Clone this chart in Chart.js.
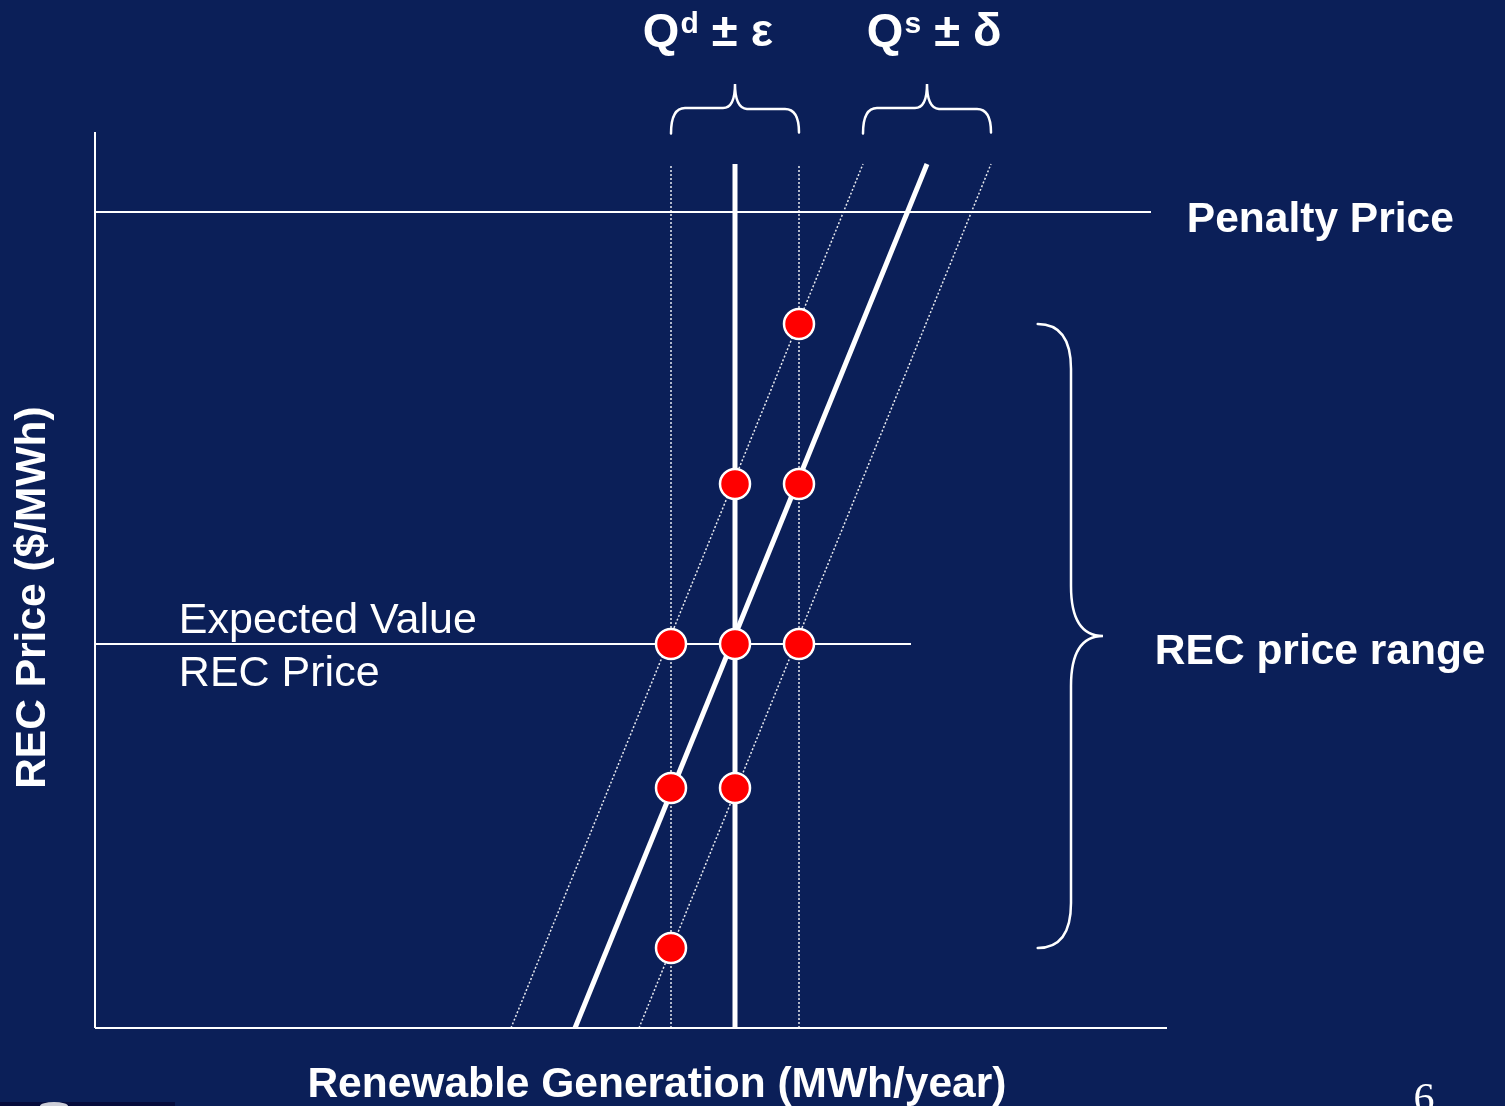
<!DOCTYPE html>
<html>
<head>
<meta charset="utf-8">
<script src="https://cdn.jsdelivr.net/npm/chart.js@4.4.1/dist/chart.umd.min.js"></script>
<style>
  html, body { margin: 0; padding: 0; background: #0b1f58; }
  canvas { display: block; }
</style>
</head>
<body>
<canvas id="recChart" width="1505" height="1106"></canvas>
<script>
// ---- diagram values (x: MWh units, y: price units) ----
const demandQ = [9, 10, 11];            // Qd - e, Qd, Qd + e
const priceTop = 5.4;                   // where the demand/supply lines end
const supplyBottomX = [6.5, 7.5, 8.5];  // Qs - d, Qs, Qs + d at price 0
const supplyTopX = [12, 13, 14];        // same lines at priceTop
const penaltyPrice = 5.1;
const expectedPrice = 2.4;
const penaltyEndX = 16.5;
const expectedEndX = 12.75;
const axisEndX = 16.75;
const axisEndY = 5.6;

// intersections (red dots)
const pointX = [11, 10, 11, 9, 10, 11, 9, 10, 9];
const pointY = [4.4, 3.4, 3.4, 2.4, 2.4, 2.4, 1.5, 1.5, 0.5];

const white = '#ffffff';
const dotted = 'rgba(255,255,255,0.9)';
const sans = "'Liberation Sans', Arial, sans-serif";

function seg(x1, y1, x2, y2) {
    return [{x: x1, y: y1}, {x: x2, y: y2}];
}

function lineSet(data, width, dash, order) {
    return {
        type: 'line',
        data: data,
        borderColor: dash ? dotted : white,
        borderWidth: width,
        borderDash: dash || [],
        pointRadius: 0,
        showLine: true,
        fill: false,
        clip: false,
        order: order
    };
}

const datasets = [
    {
        type: 'scatter',
        label: 'REC prices',
        data: pointX.map((x, i) => ({x: x, y: pointY[i]})),
        backgroundColor: '#ff0000',
        borderColor: white,
        borderWidth: 2.5,
        pointRadius: 15,
        pointHoverRadius: 15,
        clip: false,
        order: 0
    },
    // axes
    lineSet(seg(0, 0, 0, axisEndY), 2, null, 5),
    lineSet(seg(0, 0, axisEndX, 0), 2, null, 5),
    // price lines
    lineSet(seg(0, penaltyPrice, penaltyEndX, penaltyPrice), 2, null, 5),
    lineSet(seg(0, expectedPrice, expectedEndX, expectedPrice), 2, null, 5),
    // demand
    lineSet(seg(demandQ[0], 0, demandQ[0], priceTop), 1.5, [2, 2], 4),
    lineSet(seg(demandQ[2], 0, demandQ[2], priceTop), 1.5, [2, 2], 4),
    lineSet(seg(demandQ[1], 0, demandQ[1], priceTop), 5, null, 3),
    // supply
    lineSet(seg(supplyBottomX[0], 0, supplyTopX[0], priceTop), 1.5, [2, 2], 4),
    lineSet(seg(supplyBottomX[2], 0, supplyTopX[2], priceTop), 1.5, [2, 2], 4),
    lineSet(seg(supplyBottomX[1], 0, supplyTopX[1], priceTop), 5, null, 3)
];

// braces + labels, placed through the scales
const annotations = {
    id: 'annotations',
    afterDraw(chart) {
        const c = chart.ctx;
        const sx = v => chart.scales.x.getPixelForValue(v);
        const sy = v => chart.scales.y.getPixelForValue(v);

        c.save();
        c.strokeStyle = white;
        c.fillStyle = white;
        c.lineWidth = 2.5;
        c.lineCap = 'round';

        // horizontal braces over demand and supply ranges
        function hBrace(x1, x2) {
            const a = sx(x1), b = sx(x2), m = (a + b) / 2;
            const yEnd = sy(5.59), yMid = sy(5.75), yTip = sy(5.9);
            c.beginPath();
            c.moveTo(a, yEnd);
            c.quadraticCurveTo(a, yMid, a + 14, yMid);
            c.lineTo(m - 12, yMid);
            c.quadraticCurveTo(m, yMid, m, yTip);
            c.quadraticCurveTo(m, yMid, m + 12, yMid + 1);
            c.lineTo(b - 14, yMid + 1);
            c.quadraticCurveTo(b, yMid + 1, b, yEnd - 1);
            c.stroke();
        }
        hBrace(demandQ[0], demandQ[2]);
        hBrace(supplyTopX[0], supplyTopX[2]);

        // vertical brace for the price range
        const x0 = sx(14.73), xv = sx(15.25), xt = sx(15.75);
        const yT = sy(4.4), yB = sy(0.5), yTip = sy(2.45);
        c.beginPath();
        c.moveTo(x0, yT);
        c.quadraticCurveTo(xv, yT, xv, yT + 45);
        c.lineTo(xv, yTip - 50);
        c.quadraticCurveTo(xv, yTip, xt, yTip);
        c.quadraticCurveTo(xv, yTip, xv, yTip + 50);
        c.lineTo(xv, yB - 45);
        c.quadraticCurveTo(xv, yB, x0, yB);
        c.stroke();

        // Q labels with superscripts
        function qLabel(xv0, sup, greek) {
            let x = sx(xv0);
            const y = sy(6.14);
            c.textAlign = 'left';
            c.textBaseline = 'alphabetic';
            c.font = 'bold 47px ' + sans;
            c.fillText('Q', x, y);
            x += c.measureText('Q').width + 1;
            c.font = 'bold 30px ' + sans;
            c.fillText(sup, x, y - 13);
            x += c.measureText(sup).width;
            c.font = 'bold 47px ' + sans;
            c.fillText(' \u00b1 ' + greek, x, y);
        }
        qLabel(8.56, 'd', '\u03b5');
        qLabel(12.06, 's', '\u03b4');

        c.textAlign = 'left';
        c.textBaseline = 'middle';
        c.font = 'bold 42.5px ' + sans;
        c.fillText('Penalty Price', sx(17.06), sy(5.05));
        c.fillText('REC price range', sx(16.56), sy(2.35));

        c.textBaseline = 'alphabetic';
        c.font = '43px ' + sans;
        c.fillText('Expected Value', sx(1.31), sy(2.47));
        c.fillText('REC Price', sx(1.31), sy(2.14));

        c.font = 'bold 42.5px ' + sans;
        c.textAlign = 'center';
        c.fillText('Renewable Generation (MWh/year)', sx(8.78), sy(-0.43));

        c.save();
        c.translate(sx(-0.97), sy(2.69));
        c.rotate(-Math.PI / 2);
        c.textBaseline = 'middle';
        c.fillText('REC Price ($/MWh)', 0, 0);
        c.restore();

        // slide number, cut off at the bottom
        c.textAlign = 'left';
        c.font = "42px 'Liberation Serif', 'Times New Roman', serif";
        c.fillText('6', sx(20.6), sy(-0.525));

        // footer strip with logo edge
        c.fillStyle = '#060c3c';
        c.fillRect(0, chart.height - 4, 175, 4);
        c.fillStyle = 'rgba(255,255,255,0.8)';
        c.beginPath();
        c.ellipse(54, chart.height, 14, 4, 0, Math.PI, 2 * Math.PI);
        c.fill();

        c.restore();
    }
};

new Chart(document.getElementById('recChart'), {
    type: 'scatter',
    data: { datasets: datasets },
    options: {
        responsive: false,
        animation: false,
        layout: {
            autoPadding: false,
            padding: { left: 95, right: 66, top: 4, bottom: 78 }
        },
        scales: {
            x: { type: 'linear', min: 0, max: 21, display: false },
            y: { type: 'linear', min: 0, max: 6.4, display: false }
        },
        plugins: {
            legend: { display: false },
            tooltip: { enabled: false }
        }
    },
    plugins: [annotations]
});
</script>
</body>
</html>
